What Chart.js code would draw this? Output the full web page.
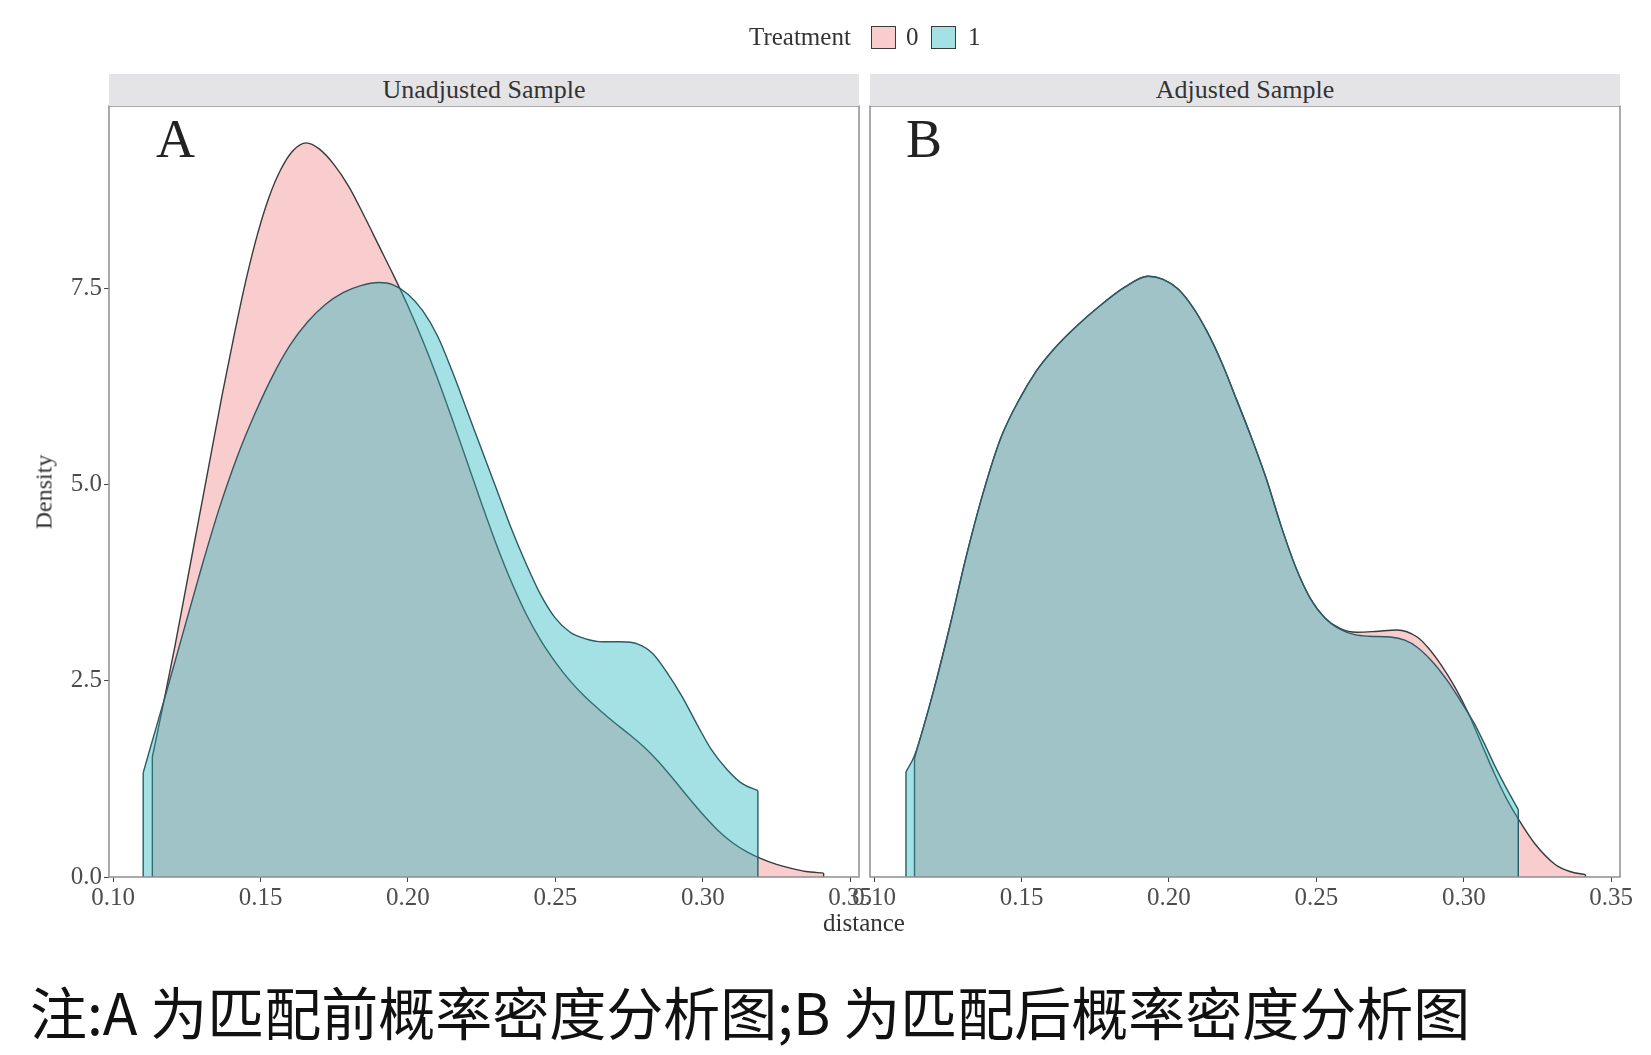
<!DOCTYPE html>
<html>
<head>
<meta charset="utf-8">
<script src="https://cdn.jsdelivr.net/npm/chart.js@4.4.1/dist/chart.umd.min.js"></script>
<style>
  html, body { margin: 0; padding: 0; background: #fff; }
  #wrap { position: relative; width: 1651px; height: 1055px; overflow: hidden; font-family: "Liberation Serif", serif; color: #333; }
  canvas { position: absolute; left: 0; top: 0; }
  .strip { position: absolute; top: 74px; height: 32px; background: #e4e4e7; font-size: 26px; line-height: 32px; text-align: center; color: #333; }
  .tag { position: absolute; font-size: 54px; line-height: 1; color: #222; }
  .key { position: absolute; top: 26px; width: 23px; height: 21px; border: 1.6px solid #3a3a3a; }
  .lg { position: absolute; top: 20px; font-size: 25px; line-height: 34px; color: #333; }
  #ytitle { position: absolute; left: 44px; top: 492px; transform: translate(-50%, -50%) rotate(-90deg); font-size: 24px; color: #333; white-space: nowrap; }
  #xtitle { position: absolute; left: 864px; top: 923px; transform: translate(-50%, -50%); font-size: 25px; color: #333; }
  #note { position: absolute; left: 30px; top: 982px; font-family: "Noto Sans CJK SC", sans-serif; font-size: 57px; line-height: 1; color: #111; white-space: nowrap; }
</style>
</head>
<body>
<div id="wrap">
  <canvas id="panelA" width="1651" height="1055"></canvas>
  <canvas id="panelB" width="1651" height="1055"></canvas>

  <div class="lg" style="left:749px">Treatment</div>
  <div class="key" style="left:871px;background:rgba(240,120,125,0.38)"></div>
  <div class="lg" style="left:906px">0</div>
  <div class="key" style="left:931px;background:rgba(38,183,192,0.42)"></div>
  <div class="lg" style="left:968px">1</div>

  <div class="strip" style="left:109px;width:750px">Unadjusted Sample</div>
  <div class="strip" style="left:870px;width:750px">Adjusted Sample</div>

  <div class="tag" style="left:156px;top:112px">A</div>
  <div class="tag" style="left:906px;top:112px">B</div>

  <div id="ytitle">Density</div>
  <div id="xtitle">distance</div>
  <div id="note">注:A 为匹配前概率密度分析图;B 为匹配后概率密度分析图</div>
</div>

<script>
// Unadjusted sample, treatment 0 / 1 (distance, density)
const unadjX0 = [0.1133, 0.1170, 0.1210, 0.1250, 0.1290, 0.1330, 0.1370, 0.1410, 0.1450, 0.1490, 0.1530, 0.1570, 0.1610, 0.1655, 0.1700, 0.1750, 0.1800, 0.1850, 0.1900, 0.1950, 0.2000, 0.2050, 0.2100, 0.2150, 0.2200, 0.2250, 0.2300, 0.2350, 0.2400, 0.2450, 0.2500, 0.2550, 0.2600, 0.2650, 0.2700, 0.2750, 0.2800, 0.2850, 0.2900, 0.2950, 0.3000, 0.3050, 0.3100, 0.3150, 0.3200, 0.3250, 0.3300, 0.3350, 0.3410];
const unadjY0 = [1.53, 2.2, 2.95, 3.75, 4.55, 5.35, 6.15, 6.9, 7.6, 8.2, 8.68, 9.03, 9.26, 9.36, 9.28, 9.08, 8.8, 8.44, 8.06, 7.68, 7.28, 6.84, 6.36, 5.84, 5.3, 4.76, 4.24, 3.77, 3.36, 3.02, 2.74, 2.5, 2.3, 2.13, 1.97, 1.82, 1.66, 1.47, 1.25, 1.02, 0.8, 0.6, 0.44, 0.32, 0.23, 0.16, 0.11, 0.07, 0.05];
const unadjX1 = [0.1102, 0.1124, 0.1180, 0.1240, 0.1300, 0.1360, 0.1420, 0.1480, 0.1540, 0.1600, 0.1660, 0.1720, 0.1780, 0.1840, 0.1900, 0.1950, 0.2000, 0.2050, 0.2100, 0.2150, 0.2200, 0.2250, 0.2300, 0.2350, 0.2400, 0.2450, 0.2500, 0.2550, 0.2600, 0.2660, 0.2720, 0.2780, 0.2830, 0.2880, 0.2930, 0.2980, 0.3030, 0.3080, 0.3130, 0.3187];
const unadjY1 = [1.33, 1.62, 2.35, 3.15, 3.95, 4.7, 5.35, 5.9, 6.38, 6.78, 7.08, 7.3, 7.45, 7.54, 7.58, 7.55, 7.43, 7.22, 6.9, 6.45, 5.95, 5.45, 4.95, 4.45, 4.0, 3.6, 3.3, 3.12, 3.04, 3.0, 3.0, 2.97, 2.85, 2.6, 2.3, 1.95, 1.62, 1.38, 1.2, 1.1];

// Adjusted sample, treatment 0 / 1
const adjX0 = [0.1137, 0.1200, 0.1257, 0.1310, 0.1370, 0.1430, 0.1494, 0.1550, 0.1607, 0.1680, 0.1765, 0.1850, 0.1929, 0.1980, 0.2030, 0.2080, 0.2130, 0.2180, 0.2230, 0.2280, 0.2330, 0.2380, 0.2430, 0.2480, 0.2530, 0.2580, 0.2637, 0.2700, 0.2774, 0.2842, 0.2880, 0.2922, 0.2970, 0.3014, 0.3060, 0.3105, 0.3145, 0.3185, 0.3242, 0.3310, 0.3360, 0.3413];
const adjY0 = [1.51, 2.35, 3.2, 4.05, 4.9, 5.6, 6.1, 6.45, 6.72, 7.0, 7.28, 7.52, 7.66, 7.62, 7.5, 7.27, 6.95, 6.55, 6.08, 5.6, 5.08, 4.48, 3.95, 3.55, 3.3, 3.17, 3.12, 3.13, 3.15, 3.06, 2.92, 2.71, 2.42, 2.1, 1.7, 1.31, 1.0, 0.74, 0.42, 0.16, 0.07, 0.03];
const adjX1 = [0.1108, 0.1137, 0.1200, 0.1257, 0.1310, 0.1370, 0.1430, 0.1494, 0.1550, 0.1607, 0.1680, 0.1765, 0.1850, 0.1929, 0.1980, 0.2030, 0.2080, 0.2130, 0.2180, 0.2230, 0.2280, 0.2330, 0.2380, 0.2430, 0.2480, 0.2530, 0.2580, 0.2630, 0.2680, 0.2751, 0.2800, 0.2842, 0.2890, 0.2945, 0.2990, 0.3037, 0.3070, 0.3105, 0.3145, 0.3185];
const adjY1 = [1.34, 1.55, 2.35, 3.2, 4.05, 4.9, 5.6, 6.1, 6.45, 6.72, 7.0, 7.28, 7.52, 7.66, 7.62, 7.5, 7.27, 6.95, 6.55, 6.08, 5.6, 5.08, 4.48, 3.95, 3.55, 3.3, 3.16, 3.09, 3.07, 3.06, 3.02, 2.93, 2.76, 2.5, 2.24, 1.95, 1.7, 1.42, 1.13, 0.86];

const xTicks = [0.10, 0.15, 0.20, 0.25, 0.30, 0.35];
const yTicks = [0.0, 2.5, 5.0, 7.5];
const xRange = [0.0986, 0.3530];
const yRange = [0, 9.83];

const PINK_FILL = 'rgba(240,120,125,0.38)';
const PINK_LINE = '#3a3a3a';
const BLUE_FILL = 'rgba(38,183,192,0.42)';
const BLUE_LINE = '#2b5a62';
const FONT = { family: 'Liberation Serif', size: 25 };

const toPoints = (xs, ys) => xs.map((x, i) => ({ x: x, y: ys[i] }));

// density curve plus its two vertical end lines
const curveSets = (xs, ys, fill, line, order) => {
    const last = xs.length - 1;
    const edge = (i) => ({
        data: [{ x: xs[i], y: 0 }, { x: xs[i], y: ys[i] }],
        borderColor: line, borderWidth: 1.4, pointRadius: 0, fill: false, order: order
    });
    return [
        {
            data: toPoints(xs, ys),
            backgroundColor: fill, borderColor: line, borderWidth: 1.4,
            fill: 'origin', cubicInterpolationMode: 'monotone', pointRadius: 0, order: order + 1
        },
        edge(0),
        edge(last)
    ];
};

// grey frame round the panel
const panelBox = {
    id: 'panelBox',
    afterDatasetsDraw(chart) {
        const { ctx, chartArea: a } = chart;
        ctx.save();
        ctx.strokeStyle = '#8e8e8e';
        ctx.lineWidth = 1.5;
        ctx.strokeRect(a.left, a.top, a.right - a.left, a.bottom - a.top);
        ctx.restore();
    }
};

const makePanel = (id, x0, y0, x1, y1, showY, padLeft, padRight) => {
    return new Chart(document.getElementById(id), {
        type: 'line',
        data: {
            datasets: [
                ...curveSets(x0, y0, PINK_FILL, PINK_LINE, 3),
                ...curveSets(x1, y1, BLUE_FILL, BLUE_LINE, 1)
            ]
        },
        options: {
            responsive: false,
            animation: false,
            layout: { padding: { left: padLeft, right: padRight, top: 106, bottom: 138 } },
            plugins: { legend: { display: false }, tooltip: { enabled: false } },
            scales: {
                x: {
                    type: 'linear', min: xRange[0], max: xRange[1],
                    afterBuildTicks: (s) => { s.ticks = xTicks.map(v => ({ value: v })); },
                    ticks: { callback: v => v.toFixed(2), font: FONT, color: '#4d4d4d', padding: 1, maxRotation: 0, autoSkip: false },
                    grid: { drawOnChartArea: false, drawTicks: true, tickLength: 5, color: '#444' },
                    border: { display: false },
                    afterFit: (s) => { s.height = 40; s.paddingLeft = 0; s.paddingRight = 0; }
                },
                y: {
                    display: showY,
                    min: yRange[0], max: yRange[1],
                    afterBuildTicks: (s) => { s.ticks = yTicks.map(v => ({ value: v })); },
                    ticks: { callback: v => v.toFixed(1), font: FONT, color: '#4d4d4d', padding: 2 },
                    grid: { drawOnChartArea: false, drawTicks: true, tickLength: 5, color: '#444' },
                    border: { display: false },
                    afterFit: (s) => { s.width = showY ? 109 : 0; s.paddingTop = 0; s.paddingBottom = 0; }
                }
            }
        },
        plugins: [panelBox]
    });
};

makePanel('panelA', unadjX0, unadjY0, unadjX1, unadjY1, true, 0, 792);
makePanel('panelB', adjX0, adjY0, adjX1, adjY1, false, 870, 31);
</script>
</body>
</html>
